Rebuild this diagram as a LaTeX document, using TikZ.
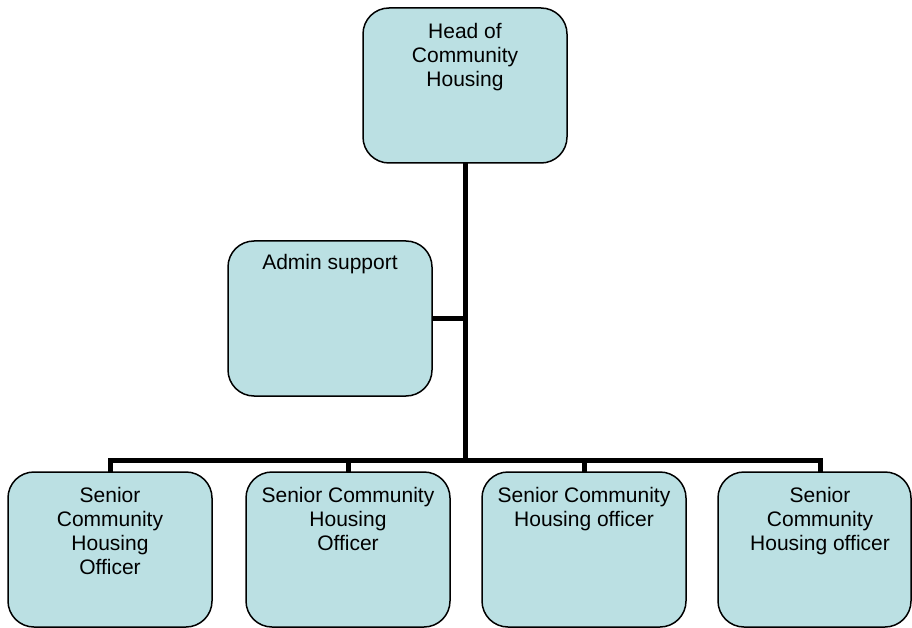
\documentclass[tikz,border=0pt]{standalone}
\usepackage{fontspec}
\setmainfont{Liberation Sans}
\begin{document}
\begin{tikzpicture}[x=1pt,y=-1pt,
  every node/.style={inner sep=0pt,outer sep=0pt},
  orgbox/.style={draw=black,line width=1.5pt,fill=boxfill,rounded corners=26pt,
    minimum width=204pt,minimum height=155pt},
  boxtext/.style={anchor=north,align=center,font=\fontsize{21}{24}\selectfont},
  conn/.style={line width=5pt,line join=miter,line cap=butt}]
\definecolor{boxfill}{RGB}{187,224,227}
\useasboundingbox (0,0) rectangle (912,628);

% boxes
\node[orgbox] (head) at (465,85.5) {};
\node[orgbox] (admin) at (330,318.5) {};
\node[orgbox] (s1) at (110,549.5) {};
\node[orgbox] (s2) at (348,549.5) {};
\node[orgbox] (s3) at (584,549.5) {};
\node[orgbox,minimum width=193pt] (s4) at (814.5,549.5) {};

% labels
\node[boxtext] (thead) at ([yshift=-15pt]head.north) {Head of\\Community\\Housing};
\node[boxtext] (tadmin) at ([yshift=-13pt]admin.north) {Admin support};
\node[boxtext] (ts1) at ([yshift=-15pt]s1.north) {Senior\\Community\\Housing\\Officer};
\node[boxtext] (ts2) at ([yshift=-15pt]s2.north) {Senior Community\\Housing\\Officer};
\node[boxtext] (ts3) at ([yshift=-15pt]s3.north) {Senior Community\\Housing officer};
\node[boxtext] (ts4) at ([xshift=5.5pt,yshift=-15pt]s4.north) {Senior\\Community\\Housing officer};

% connectors
\coordinate (bar) at (465,460);
\draw[conn] (head.south) -- (bar);
\draw[conn] (admin.east) -- (admin.east -| head.south);
\draw[conn] (s1.north) |- (bar) -| ([xshift=5.5pt]s4.north);
\draw[conn] (s2.north) -- (s2.north |- bar);
\draw[conn] (s3.north) -- (s3.north |- bar);
\end{tikzpicture}
\end{document}
